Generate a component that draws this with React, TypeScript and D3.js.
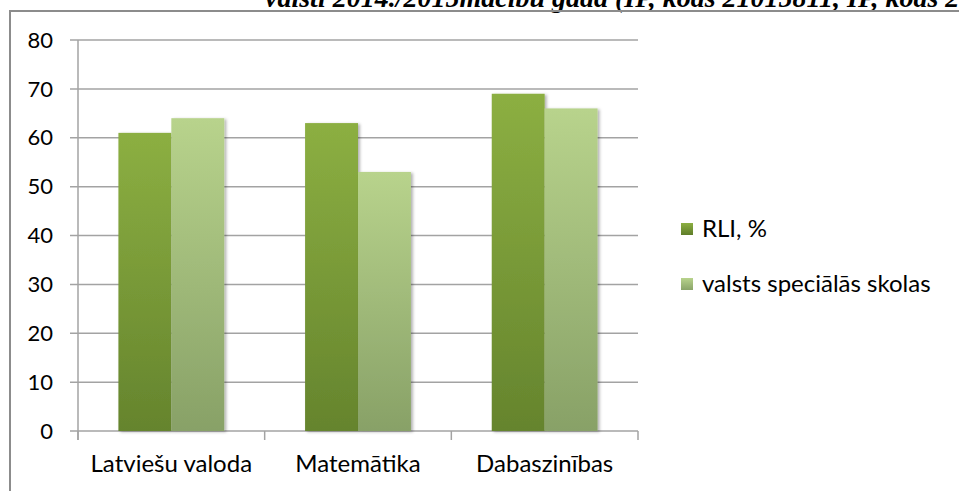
import React from "react";
import * as d3 from "d3";

const categories = ["Latviešu valoda", "Matemātika", "Dabaszinības"];
const seriesNames = ["RLI, %", "valsts speciālās skolas"];
const rliValues = [61, 63, 69];
const specialValues = [64, 53, 66];
const yTicks = [0, 10, 20, 30, 40, 50, 60, 70, 80];
const titleText = "valstī 2014./2015mācību gadā (IP, kods 21015811, IP, kods 21015911)";

const W = 959;
const H = 491;
const FONT = "Lato, 'Open Sans', sans-serif";

export default function App() {
  const x0 = d3.scaleBand<string>().domain(categories).range([78, 638]).paddingInner(0.433).paddingOuter(0.2165);
  const x1 = d3.scaleBand<number>().domain([0, 1]).range([0, x0.bandwidth()]);
  const y = d3.scaleLinear().domain([0, 80]).range([431, 40]);
  const outer = d3.scaleBand<string>().domain(categories).range([78, 638]);
  const series = [rliValues, specialValues];
  const grads = ["gDark", "gLight"];
  const legendSw = ["lDark", "lLight"];

  return (
    <svg width={W} height={H} style={{ position: "absolute", left: 0, top: 0, background: "#fff" }}>
      <defs>
        <linearGradient id="gDark" x1="0" y1="0" x2="0" y2="1">
          <stop offset="0" stopColor="#8caf42" />
          <stop offset="1" stopColor="#65842d" />
        </linearGradient>
        <linearGradient id="gLight" x1="0" y1="0" x2="0" y2="1">
          <stop offset="0" stopColor="#b8d38c" />
          <stop offset="1" stopColor="#88a167" />
        </linearGradient>
        <linearGradient id="lDark" x1="0" y1="0" x2="0" y2="1">
          <stop offset="0" stopColor="#8caf42" />
          <stop offset="1" stopColor="#5f7d29" />
        </linearGradient>
        <linearGradient id="lLight" x1="0" y1="0" x2="0" y2="1">
          <stop offset="0" stopColor="#b8d38c" />
          <stop offset="1" stopColor="#8aa469" />
        </linearGradient>
        <filter id="shadow" x="-20%" y="-20%" width="140%" height="140%">
          <feDropShadow dx="2" dy="1" stdDeviation="1.5" floodColor="#000" floodOpacity="0.3" />
        </filter>
      </defs>

      {/* clipped title from document */}
      <text x={265} y={7} fontFamily="'Liberation Serif', 'Times New Roman', serif" fontWeight="bold" fontStyle="italic" fontSize={28} fill="#000">
        {titleText}
      </text>

      {/* frame */}
      <rect x={10} y={11} width={W + 20} height={H + 20} fill="none" stroke="#8c8c8c" strokeWidth={2} />

      {/* gridlines and y ticks */}
      {yTicks.map((t) => (
        <g key={t}>
          <line x1={70} x2={638} y1={y(t)} y2={y(t)} stroke="#a3a3a3" strokeWidth={1.5} />
          <text x={53} y={y(t)} dy="0.35em" textAnchor="end" fontFamily={FONT} fontSize={22} fill="#000">
            {t}
          </text>
        </g>
      ))}

      {/* y axis */}
      <line x1={78} x2={78} y1={y(80)} y2={y(0) + 9} stroke="#a3a3a3" strokeWidth={1.5} />

      {/* category ticks */}
      {[...categories.map((c) => outer(c) as number), 638].map((xv, i) => (
        <line key={i} x1={xv} x2={xv} y1={y(0)} y2={y(0) + 9} stroke="#a3a3a3" strokeWidth={1.5} />
      ))}

      {/* bars */}
      {series.map((vals, si) =>
        categories.map((c, ci) => (
          <rect
            key={`${si}-${ci}`}
            x={(x0(c) as number) + (x1(si) as number)}
            y={y(vals[ci])}
            width={x1.bandwidth()}
            height={y(0) - y(vals[ci])}
            fill={`url(#${grads[si]})`}
            filter="url(#shadow)"
          />
        ))
      )}

      {/* category labels */}
      {categories.map((c) => (
        <text key={c} x={(outer(c) as number) + outer.bandwidth() / 2} y={472} textAnchor="middle" fontFamily={FONT} fontSize={24} fill="#000">
          {c}
        </text>
      ))}

      {/* legend */}
      {seriesNames.map((s, i) => (
        <g key={s} transform={`translate(681, ${223 + i * 55})`}>
          <rect x={0} y={0} width={12} height={12} fill={`url(#${legendSw[i]})`} />
          <text x={21} y={6} dy="0.35em" fontFamily={FONT} fontSize={24} fill="#000">
            {s}
          </text>
        </g>
      ))}
    </svg>
  );
}
